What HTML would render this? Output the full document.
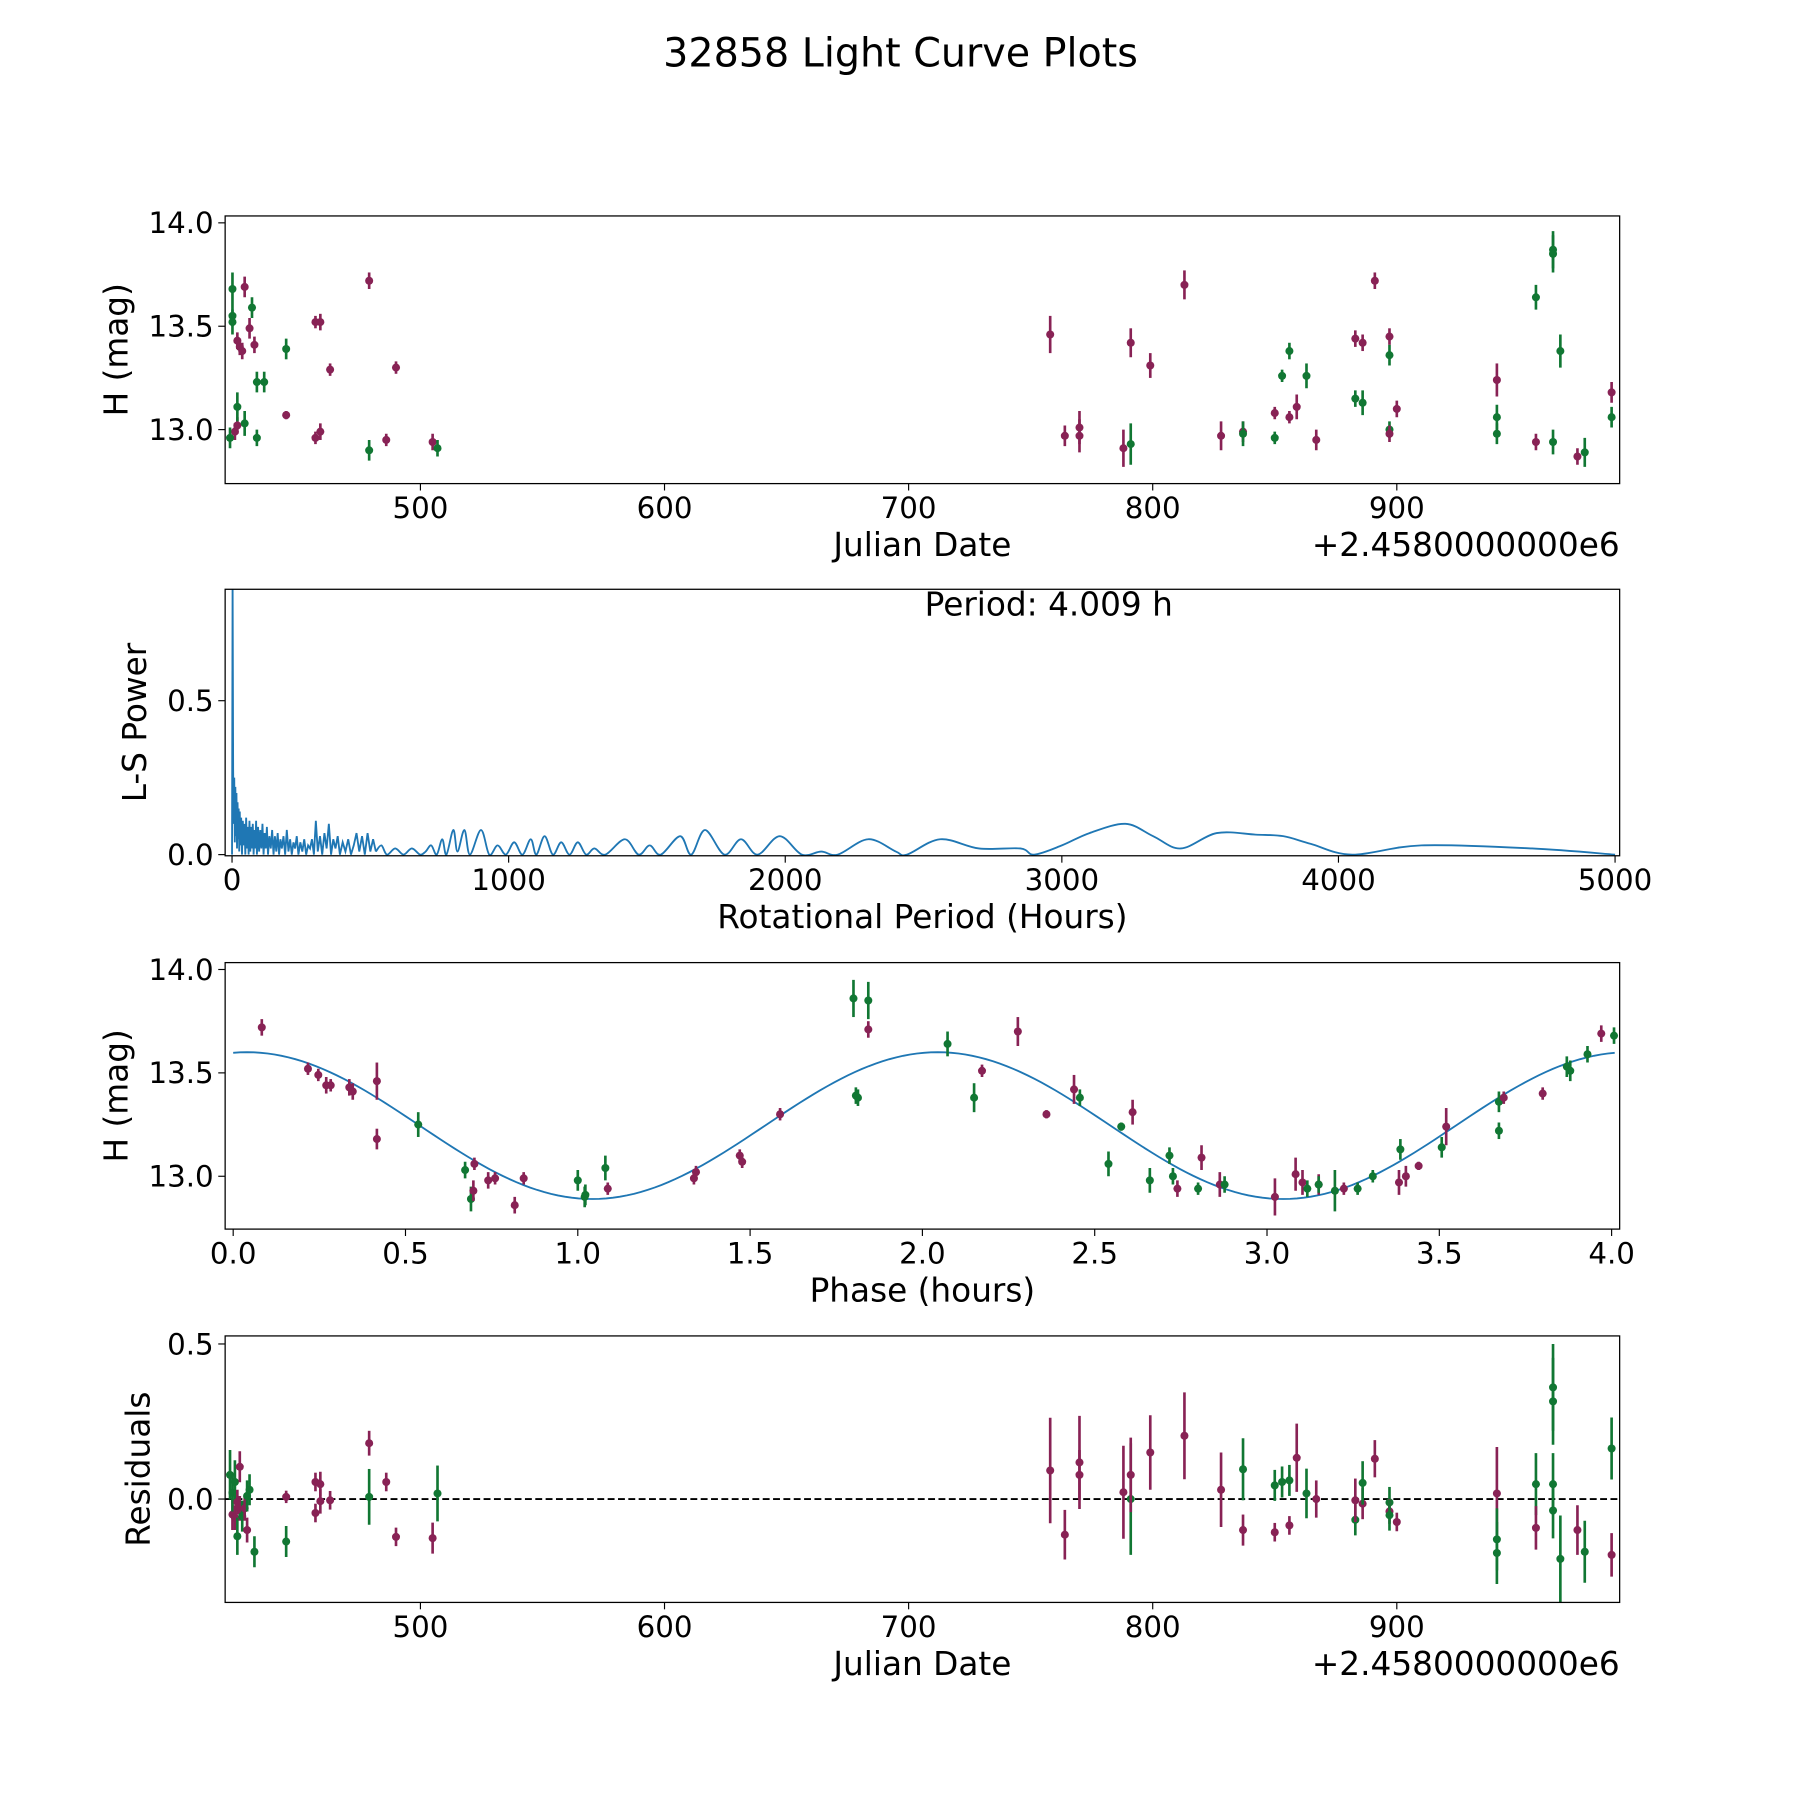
<!DOCTYPE html>
<html><head><meta charset="utf-8"><style>html,body{margin:0;padding:0;background:#fff}svg{display:block}text{font-family:"DejaVu Sans","Liberation Sans",sans-serif;fill:#000}</style></head>
<body>
<svg id="fig" xmlns="http://www.w3.org/2000/svg" width="1800" height="1800" viewBox="0 0 1567 1567">
<rect width="1567" height="1567" fill="#fff"/>
<text x="784" y="58" font-size="34.5" text-anchor="middle">32858 Light Curve Plots</text>
<g id="g1"></g>
<g id="g2"></g>
<g id="g3"></g>
<g id="g4"></g>
</svg>
<script>
// Light curve data (JD - 2458000, H mag, err, color: 1 purple, 0 green)
const lcJD  = [423,423,423,424,425,422,425,425,426,427,428,430,431,432,433,428,433,436,445,445,457,459,457,459,463,479,479,486,490,505,507, 758,764,770,770,788,791,791,799,813,828,837,837,850,850,853,856,856,859,863,867,883,883,886,886,891,897,897,897,897,900,941,941,941,957,957,964,964,964,967,974,977,988,988];
const lcMag = [13.68,13.55,13.52,12.99,13.02,12.96,13.11,13.43,13.40,13.38,13.69,13.49,13.59,13.41,12.96,13.03,13.23,13.23,13.39,13.07,13.52,13.52,12.96,12.99,13.29,12.90,13.72,12.95,13.30,12.94,12.91, 13.46,12.97,13.01,12.97,12.91,12.93,13.42,13.31,13.70,12.97,12.99,12.98,12.96,13.08,13.26,13.38,13.06,13.11,13.26,12.95,13.15,13.44,13.42,13.13,13.72,13.45,13.36,13.00,12.98,13.10,13.24,13.06,12.98,13.64,12.94,13.87,13.85,12.94,13.38,12.87,12.89,13.18,13.06];
const lcErr = [0.08,0.05,0.06,0.04,0.04,0.05,0.07,0.04,0.04,0.04,0.05,0.05,0.05,0.04,0.04,0.06,0.05,0.05,0.05,0.02,0.03,0.04,0.03,0.04,0.03,0.05,0.04,0.03,0.03,0.04,0.04, 0.09,0.05,0.08,0.08,0.09,0.10,0.07,0.06,0.07,0.07,0.05,0.06,0.03,0.03,0.03,0.04,0.03,0.06,0.06,0.05,0.04,0.04,0.04,0.06,0.04,0.04,0.05,0.04,0.04,0.04,0.08,0.06,0.05,0.06,0.04,0.09,0.09,0.06,0.08,0.04,0.07,0.05,0.05];
const lcCol = [0,0,0,1,1,0,0,1,1,1,1,1,0,1,0,0,0,0,0,1,1,1,1,1,1,0,1,1,1,1,0, 1,1,1,1,1,0,1,1,1,1,1,0,0,1,0,0,1,1,0,1,0,1,1,0,1,1,0,0,1,1,1,0,0,0,1,0,0,0,0,1,0,1,0];

// Phase data
const phPhase = [0.083,0.217,0.247,0.27,0.283,0.337,0.347,0.417,0.417,0.537,0.673,0.69,0.697,0.70,0.74,0.76,0.817,0.843,1.0,1.02,1.022,1.08,1.087,1.337,1.343,1.47,1.477,1.587,1.80,1.807,1.813,1.843,1.843,2.073,2.15,2.173,2.277,2.36,2.44,2.457,2.54,2.577,2.61,2.66,2.717,2.727,2.74,2.80,2.81,2.863,2.877,3.023,3.083,3.103,3.117,3.15,3.15,3.197,3.223,3.263,3.307,3.383,3.387,3.403,3.44,3.507,3.52,3.673,3.673,3.687,3.80,3.87,3.88,3.93,3.97,4.007];
const phMag = [13.72,13.52,13.49,13.44,13.44,13.43,13.41,13.46,13.18,13.25,13.03,12.89,12.93,13.06,12.98,12.99,12.86,12.99,12.98,12.90,12.91,13.04,12.94,12.99,13.02,13.10,13.07,13.30,13.86,13.39,13.38,13.85,13.71,13.64,13.38,13.51,13.70,13.30,13.42,13.38,13.06,13.24,13.31,12.98,13.10,13.00,12.94,12.94,13.09,12.96,12.96,12.90,13.01,12.97,12.94,12.96,12.96,12.93,12.94,12.94,13.00,12.97,13.13,13.00,13.05,13.14,13.24,13.22,13.36,13.38,13.40,13.53,13.51,13.59,13.69,13.68];
const phErr = [0.04,0.03,0.03,0.04,0.03,0.04,0.04,0.09,0.05,0.06,0.04,0.06,0.05,0.03,0.04,0.03,0.04,0.03,0.05,0.05,0.05,0.06,0.03,0.03,0.03,0.03,0.03,0.03,0.09,0.04,0.04,0.09,0.04,0.06,0.07,0.03,0.07,0.02,0.07,0.04,0.06,0.02,0.06,0.06,0.04,0.04,0.04,0.03,0.06,0.06,0.04,0.09,0.08,0.06,0.04,0.05,0.04,0.10,0.03,0.03,0.03,0.06,0.05,0.05,0.02,0.05,0.09,0.04,0.05,0.03,0.03,0.05,0.05,0.04,0.04,0.04];
const phCol = [1,1,1,1,1,1,1,1,1,0,0,0,1,1,1,1,1,1,0,0,0,0,1,1,1,1,1,1,0,0,0,0,1,0,0,1,1,1,1,0,0,0,1,0,0,0,1,0,1,1,0,1,1,1,0,1,0,0,1,0,0,1,0,1,1,0,1,0,0,1,1,0,0,0,1,0];
// Model fit parameters
const fitMean = [13.245], fitAmp = [0.355], fitPeriod = [2.0045], fitShift = [0.04];

// Residuals
const resJD  = [422,423,423,424,424,425,425,426,426,427,428,429,430,429,432,445,445,457,459,457,459,463,479,479,486,490,505,507, 758,764,770,770,788,791,791,799,813,828,837,837,850,850,853,856,856,859,863,867,883,883,886,886,891,897,897,897,900,941,941,941,957,957,964,964,964,964,967,974,977,988,988];
const resVal = [0.078,-0.05,0.02,-0.06,0.055,-0.01,-0.12,-0.03,0.104,-0.055,-0.03,0.01,0.03,-0.10,-0.17,0.007,-0.137,0.055,0.048,-0.045,-0.007,-0.004,0.18,0.007,0.055,-0.122,-0.126,0.018, 0.092,-0.115,0.118,0.078,0.022,0.0,0.078,0.15,0.204,0.03,-0.10,0.096,0.044,-0.107,0.055,0.06,-0.085,0.133,0.018,0.0,-0.067,-0.004,-0.015,0.052,0.13,-0.011,-0.04,-0.052,-0.074,0.018,-0.13,-0.174,0.048,-0.093,0.36,0.315,0.048,-0.037,-0.193,-0.10,-0.17,-0.18,0.163];
const resErr = [0.08,0.05,0.06,0.04,0.07,0.04,0.06,0.04,0.05,0.05,0.04,0.05,0.05,0.04,0.05,0.02,0.05,0.03,0.04,0.03,0.04,0.03,0.04,0.09,0.03,0.03,0.05,0.09, 0.17,0.08,0.15,0.08,0.15,0.18,0.12,0.12,0.14,0.12,0.05,0.10,0.05,0.03,0.05,0.05,0.03,0.11,0.08,0.06,0.05,0.07,0.05,0.07,0.06,0.05,0.04,0.05,0.03,0.15,0.10,0.10,0.10,0.07,0.14,0.14,0.10,0.09,0.14,0.08,0.10,0.07,0.10];
const resCol = [0,1,0,1,0,1,0,1,1,0,1,0,0,1,0,1,0,1,1,1,1,1,1,0,1,1,1,0, 1,1,1,1,1,0,1,1,1,1,1,0,0,1,0,0,1,1,0,1,0,1,1,0,1,0,1,0,1,1,0,0,0,1,0,0,0,0,0,1,0,1,0];

// Periodogram: dense part (period < 520 h)
const lsDensePeriod = [0,2,3,4,6,8,10,12,14,16,18,20,22,24,26,28,30,33,36,39,42,45,48,51,54,57,60,63,66,69,72,75,78,81,84,87,90,94,98,102,106,110,114,118,122,126,130,135,140,145,150,155,160,165,170,175,180,186,192,198,204,210,216,222,228,234,240,247,254,261,268,275,282,289,296,303,310,318,326,334,342,350,358,366,374,382,390,400,410,420,430,440,450,460,470,480,490,500,510,520];
const lsDensePower = [0,0.9,0.6,0.28,0.1,0.25,0.04,0.22,0.06,0.2,0.02,0.17,0.05,0.15,0.01,0.14,0.03,0.12,0.0,0.11,0.03,0.1,0.0,0.12,0.02,0.09,0.0,0.11,0.01,0.09,0.02,0.1,0.0,0.08,0.02,0.11,0.0,0.09,0.01,0.08,0.02,0.1,0.0,0.07,0.02,0.09,0.0,0.06,0.02,0.08,0.0,0.06,0.01,0.07,0.0,0.05,0.02,0.06,0.0,0.08,0.01,0.05,0.0,0.04,0.02,0.06,0.0,0.04,0.01,0.05,0.0,0.03,0.02,0.05,0.0,0.11,0.01,0.06,0.0,0.07,0.02,0.1,0.0,0.05,0.02,0.06,0.0,0.04,0.01,0.05,0.0,0.03,0.07,0.01,0.06,0.0,0.07,0.01,0.05,0.01];
// Periodogram: smooth part
const lsPeriod = [520,540,560,590,620,650,680,700,720,740,760,775,800,815,840,860,900,930,960,990,1020,1050,1080,1100,1130,1160,1190,1220,1250,1280,1310,1350,1420,1470,1510,1550,1620,1660,1710,1780,1840,1900,1980,2060,2130,2190,2300,2400,2440,2560,2700,2850,2900,3000,3100,3230,3330,3430,3560,3700,3800,3900,4050,4300,4700,5000];
const lsPower = [0.01,0.03,0.0,0.02,0.0,0.02,0.0,0.01,0.03,0.0,0.05,0.0,0.08,0.01,0.08,0.0,0.08,0.0,0.03,0.0,0.04,0.0,0.05,0.0,0.06,0.0,0.04,0.0,0.04,0.0,0.02,0.0,0.05,0.0,0.03,0.0,0.06,0.0,0.08,0.0,0.05,0.0,0.06,0.0,0.01,0.0,0.05,0.01,0.0,0.05,0.02,0.02,0.0,0.03,0.07,0.10,0.06,0.02,0.07,0.065,0.06,0.035,0.0,0.03,0.02,0.0];

const NS='http://www.w3.org/2000/svg';
const COL=['#117733','#882255'];
function mk(parent,tag,attrs){const e=document.createElementNS(NS,tag);for(const k in attrs)e.setAttribute(k,attrs[k]);parent.appendChild(e);return e;}
function lin(d0,d1,p0,p1){return v=>p0+(v-d0)*(p1-p0)/(d1-d0);}

const L=196,R=1410;
const panels=[{t:188,b:421},{t:513,b:745},{t:838,b:1070},{t:1163,b:1395}];

function frame(g,p,xs,xt,ys,yt,xlabel,ylabel,extra){
  mk(g,'rect',{x:L,y:p.t,width:R-L,height:p.b-p.t,fill:'none',stroke:'#000','stroke-width':1.1});
  xt.forEach(t=>{const x=xs(t.v);
    const tk=mk(g,'line',{x1:x,x2:x,y1:p.b,y2:p.b+6,stroke:'#000','stroke-width':1});
    
    
    const tx=mk(g,'text',{x:x,y:p.b+30,'font-size':25.5,'text-anchor':'middle'});tx.textContent=t.l;
    
    
  });
  yt.forEach(t=>{const y=ys(t.v);
    mk(g,'line',{x1:L-6,x2:L,y1:y,y2:y,stroke:'#000','stroke-width':1});
    const tx=mk(g,'text',{x:L-10,y:y+9,'font-size':25.5,'text-anchor':'end'});tx.textContent=t.l;
    
    
  });
  const xl=mk(g,'text',{x:803,y:p.b+63,'font-size':28.5,'text-anchor':'middle'});xl.textContent=xlabel;
  
  
  const yc=(p.t+p.b)/2;
  const yl=mk(g,'text',{x:0,y:0,'font-size':28.5,'text-anchor':'middle',transform:`translate(${ylabel.x},${yc}) rotate(-90)`});yl.textContent=ylabel.t;
  
  
  if(extra){const o=mk(g,'text',{x:R,y:p.b+63,'font-size':28.5,'text-anchor':'end'});o.textContent=extra;
    
    }
}
function clip(g,id,p){const d=mk(g,'clipPath',{id:id});mk(d,'rect',{x:L,y:p.t,width:R-L,height:p.b-p.t});}
function points(g,xsArr,ysArr,errArr,colArr,xs,ys,name){
  xsArr.forEach((xv,i)=>{const x=xs(xv),y=ys(ysArr[i]),c=COL[colArr[i]];
    const e=mk(g,'line',{x1:x,x2:x,y1:ys(ysArr[i]-errArr[i]),y2:ys(ysArr[i]+errArr[i]),stroke:c,'stroke-width':2.3});
    
    
    const m=mk(g,'circle',{cx:x,cy:y,r:3.5,fill:c});
    
    
  });
}
function smoothPath(pts){
  let d='M'+pts[0][0]+','+pts[0][1];
  for(let i=0;i<pts.length-1;i++){
    const p0=pts[Math.max(0,i-1)],p1=pts[i],p2=pts[i+1],p3=pts[Math.min(pts.length-1,i+2)];
    const c1x=p1[0]+(p2[0]-p0[0])/6,c1y=p1[1]+(p2[1]-p0[1])/6;
    const c2x=p2[0]-(p3[0]-p1[0])/6,c2y=p2[1]-(p3[1]-p1[1])/6;
    d+=` C${c1x},${c1y} ${c2x},${c2y} ${p2[0]},${p2[1]}`;
  }
  return d;
}
const jdTicks=[500,600,700,800,900].map(v=>({v,l:String(v)}));
// Panel 1
{const g=document.getElementById('g1'),p=panels[0];
 const xs=lin(500,900,366,1216),ys=lin(13,14,374,194);
 clip(g,'c1',p);const dg=mk(g,'g',{'clip-path':'url(#c1)'});
 points(dg,lcJD,lcMag,lcErr,lcCol,xs,ys,'light-curve');
 frame(g,p,xs,jdTicks,ys,[13,13.5,14].map(v=>({v,l:v.toFixed(1)})),'Julian Date',{x:111,t:'H (mag)'},'+2.4580000000e6');}
// Panel 2
{const g=document.getElementById('g2'),p=panels[1];
 const xs=lin(0,5000,202,1406),ys=lin(0,0.5,744,610);
 clip(g,'c2',p);const dg=mk(g,'g',{'clip-path':'url(#c2)'});
 const pl=mk(dg,'polyline',{points:lsDensePeriod.map((v,i)=>xs(v)+','+ys(lsDensePower[i])).join(' '),fill:'none',stroke:'#1f77b4','stroke-width':1.6});
 
 
 const sp=mk(dg,'path',{d:smoothPath(lsPeriod.map((v,i)=>[xs(v),ys(lsPower[i])])),fill:'none',stroke:'#1f77b4','stroke-width':1.6});
 
 
 frame(g,p,xs,[0,1000,2000,3000,4000,5000].map(v=>({v,l:String(v)})),ys,[0,0.5].map(v=>({v,l:v.toFixed(1)})),'Rotational Period (Hours)',{x:127,t:'L-S Power'});
 const t=mk(g,'text',{x:913,y:536,'font-size':28.5,'text-anchor':'middle'});t.textContent='Period: 4.009 h';
 
 }
// Panel 3
{const g=document.getElementById('g3'),p=panels[2];
 const xs=lin(0,4,203,1403),ys=lin(13,14,1024,844);
 clip(g,'c3',p);const dg=mk(g,'g',{'clip-path':'url(#c3)'});
 const pts=[];for(let i=0;i<=200;i++){const ph=4.009*i/200;pts.push(xs(ph)+','+ys(fitMean[0]+fitAmp[0]*Math.cos(2*Math.PI*(ph-fitShift[0])/fitPeriod[0])));}
 const fl=mk(dg,'polyline',{points:pts.join(' '),fill:'none',stroke:'#1f77b4','stroke-width':1.6});
 
 
 points(dg,phPhase,phMag,phErr,phCol,xs,ys,'phase');
 frame(g,p,xs,[0,0.5,1,1.5,2,2.5,3,3.5,4].map(v=>({v,l:v.toFixed(1)})),ys,[13,13.5,14].map(v=>({v,l:v.toFixed(1)})),'Phase (hours)',{x:111,t:'H (mag)'});}
// Panel 4
{const g=document.getElementById('g4'),p=panels[3];
 const xs=lin(500,900,366,1216),ys=lin(0,0.5,1305,1170);
 clip(g,'c4',p);const dg=mk(g,'g',{'clip-path':'url(#c4)'});
 const zl=mk(dg,'line',{x1:L,x2:R,y1:ys(0),y2:ys(0),stroke:'#000','stroke-width':1.6,'stroke-dasharray':'6,3'});
 
 
 points(dg,resJD,resVal,resErr,resCol,xs,ys,'residual');
 frame(g,p,xs,jdTicks,ys,[0,0.5].map(v=>({v,l:v.toFixed(1)})),'Julian Date',{x:130,t:'Residuals'},'+2.4580000000e6');}
</script>
</body></html>
